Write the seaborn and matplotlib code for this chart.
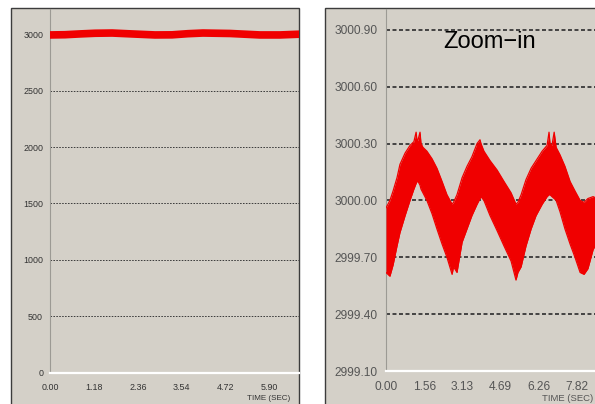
import numpy as np
import pandas as pd
import matplotlib
matplotlib.use("Agg")
import matplotlib.pyplot as plt
from matplotlib.patches import Rectangle
import seaborn as sns

# ---------------- data ----------------
# left panel: full-scale speed trace
full_time = [0.00, 0.40, 0.80, 1.21, 1.67, 2.20, 2.82, 3.28, 3.70, 4.11, 4.84, 5.64, 6.18, 6.72]
full_speed = [2994, 2996, 3003, 3009, 3011, 3003, 2994, 2995, 3005, 3011, 3007, 2994, 2994, 3001]
full_yticks = [0, 500, 1000, 1500, 2000, 2500, 3000]
full_xticks = [0.00, 1.18, 2.36, 3.54, 4.72, 5.90]

# right panel: zoomed-in speed trace (noise band: upper / lower envelope)
zoom_time = [0.00, 0.16, 0.29, 0.45, 0.57, 0.78, 0.98, 1.14, 1.23, 1.27, 1.31, 1.39, 1.43, 1.51,
             1.67, 1.88, 2.08, 2.29, 2.49, 2.70, 2.76, 2.90, 3.11, 3.31, 3.51, 3.72, 3.84, 3.88,
             4.00, 4.25, 4.54, 4.82, 5.11, 5.31, 5.39, 5.52, 5.72, 5.93, 6.13, 6.38, 6.58, 6.66,
             6.70, 6.78, 6.87, 6.95, 7.11, 7.31, 7.52, 7.72, 7.93, 8.09, 8.25, 8.46, 8.62]
zoom_upper = [2999.96, 3000.00, 3000.05, 3000.12, 3000.19, 3000.25, 3000.29, 3000.31, 3000.36, 3000.31,
              3000.32, 3000.36, 3000.30, 3000.28, 3000.26, 3000.22, 3000.17, 3000.10, 3000.03, 2999.98,
              2999.99, 3000.03, 3000.12, 3000.18, 3000.23, 3000.30, 3000.32, 3000.30, 3000.26, 3000.21,
              3000.16, 3000.10, 3000.04, 2999.98, 2999.99, 3000.03, 3000.11, 3000.17, 3000.21, 3000.26,
              3000.29, 3000.36, 3000.30, 3000.29, 3000.36, 3000.28, 3000.24, 3000.18, 3000.10, 3000.05,
              3000.00, 2999.99, 3000.01, 3000.02, 3000.01]
zoom_lower = [2999.62, 2999.60, 2999.66, 2999.76, 2999.83, 2999.92, 3000.00, 3000.06, 3000.09, 3000.10,
              3000.10, 3000.08, 3000.06, 3000.04, 3000.00, 2999.93, 2999.85, 2999.77, 2999.70, 2999.61,
              2999.65, 2999.62, 2999.78, 2999.85, 2999.92, 2999.98, 3000.01, 3000.02, 3000.00, 2999.92,
              2999.84, 2999.76, 2999.68, 2999.58, 2999.62, 2999.65, 2999.76, 2999.85, 2999.92, 2999.98,
              3000.02, 3000.03, 3000.03, 3000.02, 3000.01, 3000.00, 2999.94, 2999.85, 2999.77, 2999.70,
              2999.62, 2999.61, 2999.64, 2999.74, 2999.78]
zoom_yticks = [2999.10, 2999.40, 2999.70, 3000.00, 3000.30, 3000.60, 3000.90]
zoom_xticks = [0.00, 1.56, 3.13, 4.69, 6.26, 7.82]

x_label = "TIME (SEC)"
note = "Zoom\u2212in"

# ---------------- styling ----------------
W, H = 595, 404
PANEL = "#d4d0c8"
RED = "#f00000"
FONT = ["Liberation Sans", "DejaVu Sans"]

sns.set_style("white")
plt.rcParams["font.family"] = FONT


def fx(px):
    return px / W


def fy(py):
    return 1 - py / H


fig = plt.figure(figsize=(W / 100, H / 100), dpi=100, facecolor="white")

# panel frames (window-like grey backgrounds)
for x0, x1 in [(11, 299), (325, 610)]:
    fig.add_artist(Rectangle((fx(x0), fy(410)), (x1 - x0) / W, (410 - 8) / H,
                             transform=fig.transFigure, facecolor=PANEL,
                             edgecolor="#3c3c3c", linewidth=1.0, zorder=0))


def style_axes(ax, ylab_size, xlab_size, lab_color, tick_len_px):
    ax.set_facecolor("none")
    for s in ["top", "right"]:
        ax.spines[s].set_visible(False)
    ax.spines["left"].set_color("#9c9a94")
    ax.spines["left"].set_linewidth(0.8)
    ax.spines["bottom"].set_color("white")
    ax.spines["bottom"].set_linewidth(1.6)
    ax.tick_params(axis="y", length=tick_len_px * 0.72, width=1.0, color="#404040",
                   labelsize=ylab_size, labelcolor=lab_color, pad=3.5)
    ax.tick_params(axis="x", length=1.5, width=1.2, color="#505050",
                   labelsize=xlab_size, labelcolor=lab_color, pad=6.0)
    ax.set_xlabel("")
    ax.set_ylabel("")


# ---------------- left panel ----------------
axL = fig.add_axes([fx(50), fy(372.7), (299 - 50) / W, (372.7 - 9) / H])
dfL = pd.DataFrame({"t": full_time, "v": full_speed})
sns.lineplot(data=dfL, x="t", y="v", ax=axL, color=RED, linewidth=5.5, zorder=3)
axL.set_xlim(0, 6.69)
axL.set_ylim(0, 3224)
axL.set_yticks(full_yticks)
axL.set_yticklabels([f"{v:d}" for v in full_yticks])
axL.set_xticks(full_xticks)
axL.set_xticklabels([f"{v:.2f}" for v in full_xticks])
axL.grid(axis="y", color="#3a3a3a", linewidth=0.7, linestyle=(0, (1.6, 1.4)))
axL.grid(axis="x", visible=False)
style_axes(axL, 6.4, 6.4, "#333333", 2)
fig.text(fx(269), fy(399), x_label, ha="center", va="center", fontsize=5.8,
         color="#333333")

# ---------------- right panel ----------------
axR = fig.add_axes([fx(386), fy(371), (597 - 386) / W, (371 - 9) / H])
dfR = pd.DataFrame({"t": zoom_time, "upper": zoom_upper, "lower": zoom_lower})
axR.fill_between(dfR["t"], dfR["lower"], dfR["upper"], color=RED, linewidth=0, zorder=3)
sns.lineplot(data=dfR, x="t", y="upper", ax=axR, color=RED, linewidth=0.9, zorder=3)
sns.lineplot(data=dfR, x="t", y="lower", ax=axR, color=RED, linewidth=0.9, zorder=3)
axR.set_xlim(0, 8.62)
axR.set_ylim(2999.10, 3001.01)
axR.set_yticks(zoom_yticks)
axR.set_yticklabels([f"{v:.2f}" for v in zoom_yticks])
axR.set_xticks(zoom_xticks)
axR.set_xticklabels([f"{v:.2f}" for v in zoom_xticks])
axR.grid(axis="y", color="#383838", linewidth=1.3, linestyle=(0, (2.2, 1.4)))
axR.grid(axis="x", visible=False)
style_axes(axR, 8.6, 8.6, "#555555", 4)
fig.text(fx(593), fy(403), x_label, ha="right", va="bottom", fontsize=6.8, color="#555555")
fig.text(fx(489.5), fy(48), note, ha="center", va="baseline", fontsize=17, color="black")

fig.savefig("out.png", dpi=100, facecolor="white")
